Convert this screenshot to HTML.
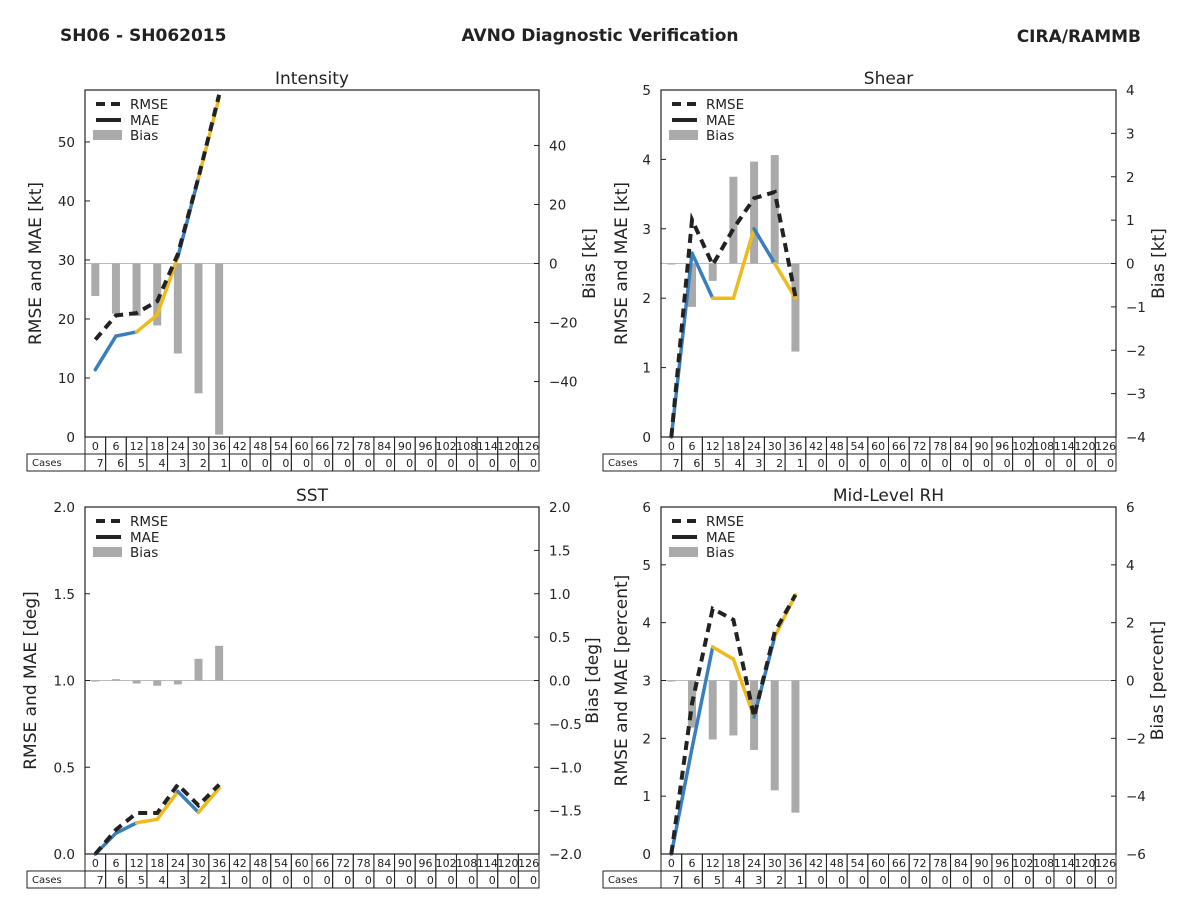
<!DOCTYPE html>
<html><head><meta charset="utf-8"><style>
body{margin:0;background:#fff;font-family:"Liberation Sans","DejaVu Sans",sans-serif}
svg text{font-family:"DejaVu Sans","Liberation Sans",sans-serif}
</style></head><body>
<svg id="c" width="1200" height="900" xmlns="http://www.w3.org/2000/svg">
<text x="60" y="41" font-size="17" font-weight="bold" fill="#222">SH06 - SH062015</text>
<text x="600" y="41" font-size="17" font-weight="bold" fill="#222" text-anchor="middle">AVNO Diagnostic Verification</text>
<text x="1141" y="42" font-size="17" font-weight="bold" fill="#222" text-anchor="end">CIRA/RAMMB</text>
</svg>
<script>
const hours=[0,6,12,18,24,30,36,42,48,54,60,66,72,78,84,90,96,102,108,114,120,126];
const cases=[7,6,5,4,3,2,1,0,0,0,0,0,0,0,0,0,0,0,0,0,0,0];
const segColors=['b','b','y','y','b','y'];
const intensityRmse=[16.5,20.6,21,23,31,44,58];
const intensityMae=[11.4,17.1,17.8,20.7,30.5,43.9,57.5];
const intensityBias=[-11,-17,-17.8,-21,-30.5,-44,-58];
const shearRmse=[0,3.13,2.48,3.0,3.44,3.53,2.02];
const shearMae=[0,2.65,2.0,2.0,3.0,2.5,2.0];
const shearBias=[0,-1.0,-0.4,2.0,2.35,2.5,-2.03];
const sstRmse=[0,0.14,0.236,0.236,0.4,0.28,0.4];
const sstMae=[0,0.12,0.18,0.2,0.36,0.24,0.38];
const sstBias=[0,0.015,-0.035,-0.06,-0.045,0.25,0.4];
const rhRmse=[0,2.6,4.24,4.05,2.37,3.84,4.48];
const rhMae=[0,1.83,3.58,3.37,2.37,3.76,4.48];
const rhBias=[0,-1.63,-2.04,-1.9,-2.4,-3.8,-4.57];

const NS='http://www.w3.org/2000/svg';
const svg=document.getElementById('c');
function mk(tag,attrs,parent,txt){const e=document.createElementNS(NS,tag);for(const k in attrs)e.setAttribute(k,attrs[k]);if(txt!==undefined)e.textContent=txt;(parent||svg).appendChild(e);return e;}
function fmt(v,d){let s=v.toFixed(d);if(v<0)s='\u2212'+s.slice(1);return s;}

const panels=[
 {name:'intensity',title:'Intensity',x0:85,x1:539,y0:90,y1:437,lmax:58.8,lt:[0,10,20,30,40,50],ld:0,rmax:58.8,rt:[-40,-20,0,20,40],rd:0,ll:'RMSE and MAE [kt]',rl:'Bias [kt]',llx:41,rlx:595,rmse:intensityRmse,mae:intensityMae,bias:intensityBias},
 {name:'shear',title:'Shear',x0:661,x1:1116,y0:90,y1:437,lmax:5,lt:[0,1,2,3,4,5],ld:0,rmax:4,rt:[-4,-3,-2,-1,0,1,2,3,4],rd:0,ll:'RMSE and MAE [kt]',rl:'Bias [kt]',llx:627,rlx:1164,rmse:shearRmse,mae:shearMae,bias:shearBias},
 {name:'sst',title:'SST',x0:85,x1:539,y0:507,y1:854,lmax:2,lt:[0,0.5,1,1.5,2],ld:1,rmax:2,rt:[-2,-1.5,-1,-0.5,0,0.5,1,1.5,2],rd:1,ll:'RMSE and MAE [deg]',rl:'Bias [deg]',llx:36,rlx:598,rmse:sstRmse,mae:sstMae,bias:sstBias},
 {name:'rh',title:'Mid-Level RH',x0:661,x1:1116,y0:507,y1:854,lmax:6,lt:[0,1,2,3,4,5,6],ld:0,rmax:6,rt:[-6,-4,-2,0,2,4,6],rd:0,ll:'RMSE and MAE [percent]',rl:'Bias [percent]',llx:627,rlx:1163,rmse:rhRmse,mae:rhMae,bias:rhBias}
];
const col={b:'#3a7fbd',y:'#eebb1c'};

panels.forEach(p=>{
 const g=mk('g',{});
 
 
 const cw=(p.x1-p.x0)/hours.length;
 const xs=i=>p.x0+cw*(i+0.5);
 const yl=v=>p.y1-(v/p.lmax)*(p.y1-p.y0);
 const yr=v=>(p.y0+p.y1)/2-(v/p.rmax)*(p.y1-p.y0)/2;
 const t=mk('text',{x:(p.x0+p.x1)/2,y:p.y0-6,'font-size':17,'text-anchor':'middle',fill:'#222'},g,p.title);
 
 const z=mk('line',{x1:p.x0,x2:p.x1,y1:yr(0),y2:yr(0),stroke:'#bbb','stroke-width':1},g);
 
 p.bias.forEach((v,i)=>{const a=yr(0),b=yr(v);
  const r=mk('rect',{x:xs(i)-4,y:Math.min(a,b),width:8,height:Math.max(Math.abs(b-a),1),fill:'#aaa'},g);
  });
 for(let i=0;i<p.mae.length-1;i++){
  const l=mk('line',{x1:xs(i),y1:yl(p.mae[i]),x2:xs(i+1),y2:yl(p.mae[i+1]),stroke:col[segColors[i]],'stroke-width':3.5,'stroke-linecap':'round'},g);
  }
 const pl=mk('polyline',{points:p.rmse.map((v,i)=>xs(i)+','+yl(v)).join(' '),fill:'none',stroke:'#222','stroke-width':4,'stroke-dasharray':'9,6'},g);
 
 const f=mk('rect',{x:p.x0,y:p.y0,width:p.x1-p.x0,height:p.y1-p.y0,fill:'none',stroke:'#222','stroke-width':1.2},g);
 
 p.lt.forEach(v=>{const y=yl(v);mk('line',{x1:p.x0,x2:p.x0+5,y1:y,y2:y,stroke:'#222'},g);
  const tx=mk('text',{x:p.x0-10,y:y+5,'font-size':13.5,'text-anchor':'end',fill:'#222'},g,fmt(v,p.ld));
  });
 p.rt.forEach(v=>{const y=yr(v);mk('line',{x1:p.x1-5,x2:p.x1,y1:y,y2:y,stroke:'#222'},g);
  const tx=mk('text',{x:p.x1+10,y:y+5,'font-size':13.5,fill:'#222'},g,fmt(v,p.rd));
  });
 const cy=(p.y0+p.y1)/2;
 const a1=mk('text',{x:p.llx,y:cy,'font-size':17,'text-anchor':'middle',fill:'#222',transform:`rotate(-90 ${p.llx} ${cy})`},g,p.ll);
 
 const a2=mk('text',{x:p.rlx,y:cy,'font-size':17,'text-anchor':'middle',fill:'#222',transform:`rotate(-90 ${p.rlx} ${cy})`},g,p.rl);
 
 const lg=mk('g',{},g);
 const lx=p.x0+8,ly=p.y0+14;
 mk('line',{x1:lx+3,x2:lx+28,y1:ly,y2:ly,stroke:'#222','stroke-width':4,'stroke-dasharray':'9,6'},lg);
 mk('text',{x:lx+37,y:ly+5,'font-size':13.5,fill:'#222'},lg,'RMSE');
 mk('line',{x1:lx+3,x2:lx+28,y1:ly+16,y2:ly+16,stroke:'#222','stroke-width':4},lg);
 mk('text',{x:lx+37,y:ly+21,'font-size':13.5,fill:'#222'},lg,'MAE');
 mk('rect',{x:lx,y:ly+26,width:29,height:10,fill:'#aaa'},lg);
 mk('text',{x:lx+37,y:ly+36,'font-size':13.5,fill:'#222'},lg,'Bias');
 const tb=mk('g',{},g);
 const r0=p.y1,r1=p.y1+17,cx0=p.x0-58;
 mk('rect',{x:cx0,y:r1,width:58,height:17,fill:'none',stroke:'#222'},tb);
 mk('text',{x:cx0+5,y:r1+12,'font-size':10,fill:'#222'},tb,'Cases');
 hours.forEach((h,i)=>{const x=p.x0+cw*i;
  mk('rect',{x:x,y:r0,width:cw,height:17,fill:'none',stroke:'#222'},tb);
  mk('rect',{x:x,y:r1,width:cw,height:17,fill:'none',stroke:'#222'},tb);
  mk('text',{x:x+cw/2,y:r0+13,'font-size':11,'text-anchor':'middle',fill:'#222'},tb,h);
  mk('text',{x:x+cw-2,y:r1+13,'font-size':11,'text-anchor':'end',fill:'#222'},tb,cases[i]);});
});
</script>
</body></html>
